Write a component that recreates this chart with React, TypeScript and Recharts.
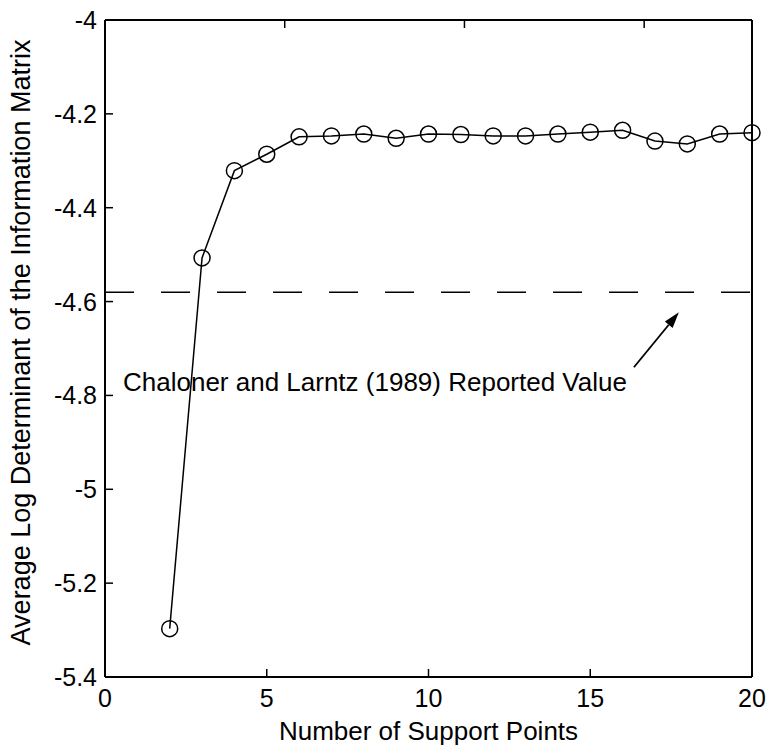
import React from 'react';
import { LineChart, Line, XAxis, YAxis, ReferenceLine, ReferenceDot, Label } from 'recharts';

const supportPoints = [2, 3, 4, 5, 6, 7, 8, 9, 10, 11, 12, 13, 14, 15, 16, 17, 18, 19, 20];
const avgLogDet = [
  -5.297, -4.507, -4.321, -4.286, -4.249, -4.247, -4.243, -4.252, -4.243, -4.244,
  -4.247, -4.247, -4.243, -4.239, -4.235, -4.258, -4.264, -4.243, -4.24,
];
const xTicks = [0, 5, 10, 15, 20];
const yTicks = [-5.4, -5.2, -5, -4.8, -4.6, -4.4, -4.2, -4];
const reportedValue = -4.58;
const noteText = 'Chaloner and Larntz (1989) Reported Value';
const notePos = { x: 0.556, y: -4.791 };
const arrowFrom = { x: 16.35, y: -4.74 };
const arrowTo = { x: 17.74, y: -4.623 };

const data = supportPoints.map((n, i) => ({ n, det: avgLogDet[i] }));

const FONT = 'Arial, "Liberation Sans", sans-serif';
const TICK_LEN = 8;

const LeftTick = (p: any) => (
  <g>
    <line x1={p.x + 8} x2={p.x + 8 + TICK_LEN} y1={p.y} y2={p.y} stroke="#000" strokeWidth={1.5} />
    <text x={p.x} y={p.y} dy="0.36em" textAnchor="end" fontSize={25} fontFamily={FONT} fill="#000">
      {String(p.payload.value)}
    </text>
  </g>
);

const BottomTick = (p: any) => (
  <g>
    <line x1={p.x} x2={p.x} y1={p.y - 12} y2={p.y - 12 - TICK_LEN} stroke="#000" strokeWidth={1.5} />
    <text x={p.x} y={p.y} dy="0.71em" textAnchor="middle" fontSize={25} fontFamily={FONT} fill="#000">
      {String(p.payload.value)}
    </text>
  </g>
);

const TopTick = (p: any) => (
  <line x1={p.x} x2={p.x} y1={p.y} y2={p.y + TICK_LEN} stroke="#000" strokeWidth={1.5} />
);

const RightTick = (p: any) => (
  <line x1={p.x} x2={p.x - TICK_LEN} y1={p.y} y2={p.y} stroke="#000" strokeWidth={1.5} />
);

const Arrow = (p: any) => {
  const { x1, y1, x2, y2 } = p;
  const ang = Math.atan2(y2 - y1, x2 - x1);
  const len = 16;
  const hw = 5;
  const bx = x2 - len * Math.cos(ang);
  const by = y2 - len * Math.sin(ang);
  const px = -Math.sin(ang) * hw;
  const py = Math.cos(ang) * hw;
  return (
    <g>
      <line x1={x1} y1={y1} x2={bx} y2={by} stroke="#000" strokeWidth={1.8} />
      <polygon points={`${x2},${y2} ${bx + px},${by + py} ${bx - px},${by - py}`} fill="#000" />
    </g>
  );
};

const Note = (p: any) => (
  <text x={p.cx} y={p.cy} textAnchor="start" fontSize={26} fontFamily={FONT} fill="#000">
    {noteText}
  </text>
);

const App = () => {
  return (
    <div style={{ position: 'absolute', left: 0, top: 0, width: 768, height: 745, background: '#fff' }}>
      <LineChart width={768} height={745} data={data} margin={{ top: 0, right: 0, bottom: 0, left: 0 }}>
        <XAxis
          xAxisId="x"
          dataKey="n"
          type="number"
          domain={[0, 20]}
          ticks={xTicks}
          interval={0}
          height={68}
          tickSize={0}
          tickMargin={12}
          tickLine={false}
          axisLine={{ stroke: '#000', strokeWidth: 2 }}
          tick={BottomTick}
        >
          <Label
            content={(props: any) => {
              const vb = props.viewBox;
              return (
                <text x={vb.x + vb.width / 2} y={vb.y + 63} textAnchor="middle" fontSize={26} fontFamily={FONT} fill="#000">
                  Number of Support Points
                </text>
              );
            }}
          />
        </XAxis>
        <XAxis
          xAxisId="xt"
          orientation="top"
          type="number"
          domain={[0, 20]}
          ticks={xTicks}
          interval={0}
          height={20}
          tickSize={0}
          tickMargin={0}
          tickLine={false}
          axisLine={{ stroke: '#000', strokeWidth: 2 }}
          tick={TopTick}
        />
        <YAxis
          yAxisId="y"
          type="number"
          domain={[-5.4, -4]}
          ticks={yTicks}
          interval={0}
          width={105}
          tickSize={0}
          tickMargin={8}
          tickLine={false}
          axisLine={{ stroke: '#000', strokeWidth: 2 }}
          tick={LeftTick}
        >
          <Label
            content={(props: any) => {
              const vb = props.viewBox;
              const cy = vb.y + vb.height / 2 - 6;
              return (
                <text
                  transform={`translate(30, ${cy}) rotate(-90)`}
                  textAnchor="middle"
                  fontSize={27}
                  fontFamily={FONT}
                  fill="#000"
                >
                  Average Log Determinant of the Information Matrix
                </text>
              );
            }}
          />
        </YAxis>
        <YAxis
          yAxisId="yr"
          orientation="right"
          type="number"
          domain={[-5.4, -4]}
          ticks={yTicks}
          interval={0}
          width={16}
          tickSize={0}
          tickMargin={0}
          tickLine={false}
          axisLine={{ stroke: '#000', strokeWidth: 2 }}
          tick={RightTick}
        />
        <ReferenceLine
          xAxisId="x"
          yAxisId="y"
          y={reportedValue}
          stroke="#000"
          strokeWidth={1.5}
          strokeDasharray="29 27"
        />
        <ReferenceLine
          xAxisId="x"
          yAxisId="y"
          segment={[arrowFrom, arrowTo]}
          shape={Arrow}
        />
        <ReferenceDot xAxisId="x" yAxisId="y" x={notePos.x} y={notePos.y} r={0} shape={Note} />
        <Line
          xAxisId="x"
          yAxisId="y"
          type="linear"
          dataKey="det"
          stroke="#000"
          strokeWidth={1.5}
          dot={{ r: 8, fill: 'none', stroke: '#000', strokeWidth: 1.5 }}
          activeDot={false}
          isAnimationActive={false}
        />
      </LineChart>
    </div>
  );
};

export default App;
